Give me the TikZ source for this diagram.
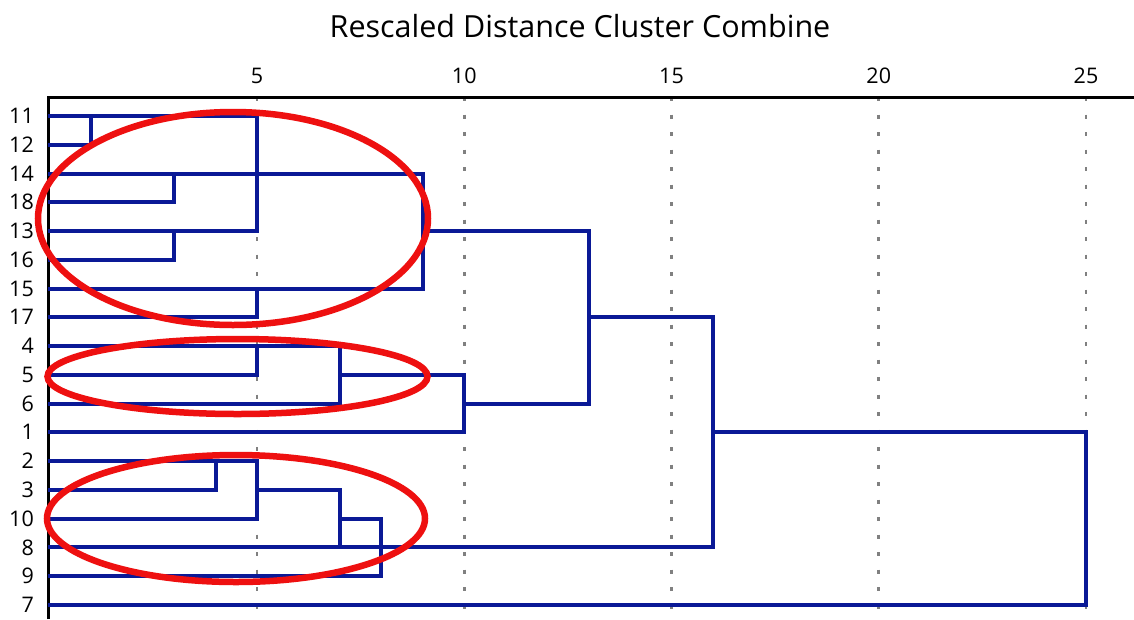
\documentclass[tikz,border=0pt]{standalone}
\usepackage{fontspec}
\setmainfont{Open Sans}
\definecolor{dendro}{RGB}{10,25,150}
\definecolor{ring}{RGB}{238,16,16}
\definecolor{gridgray}{RGB}{128,128,128}
\begin{document}
\begin{tikzpicture}[x=1pt,y=-1pt,
  tree/.style={draw=dendro, line width=4pt, line join=miter},
  axisline/.style={draw=black, line width=3pt},
  gridline/.style={draw=gridgray, line width=2.6pt, dash pattern=on 4pt off 13.5pt},
  ringline/.style={draw=ring, line width=6.5pt},
  rowlabel/.style={anchor=base east, inner sep=0pt, font=\fontsize{21.5}{24}\selectfont},
  ticklabel/.style={anchor=base, inner sep=0pt, font=\fontsize{21.5}{24}\selectfont},
  titlelabel/.style={anchor=base, inner sep=0pt, font=\fontsize{30.5}{36}\selectfont}]
\useasboundingbox (0,0) rectangle (1134,619);
\fill[white] (0,0) rectangle (1134,619);
% title
\node[titlelabel] (title) at (580,37) {Rescaled Distance Cluster Combine};
% grid lines and tick labels
\foreach \v in {5,10,15,20,25} {
  \draw[gridline] ({49.75+41.45*\v},97) -- ({49.75+41.45*\v},619);
  \node[ticklabel] (t\v) at ({49.75+41.45*\v},83) {\v};
}
% axes
\draw[axisline] (48,619) -- (48,97) -- (1134,97);
% row labels
\foreach \lab [count=\i from 0] in {11,12,14,18,13,16,15,17,4,5,6,1,2,3,10,8,9,7} {
  \node[rowlabel] (r\lab) at (34,{116+28.76*\i+7.6}) {\lab};
}
% dendrogram
\begin{scope}[shift={(49.75,116)}, x=41.45pt, y=-28.76pt]
  \draw[tree] (-0.04,1) -| (1,0);
  \draw[tree] (-0.04,0) -| (5,4) -- (-0.04,4);
  \draw[tree] (-0.04,3) -| (3,2);
  \draw[tree] (-0.04,5) -| (3,4);
  \draw[tree] (-0.04,2) -| (9,6) -- (-0.04,6);
  \draw[tree] (-0.04,7) -| (5,6);
  \draw[tree] (9,4) -| (13,10) -- (10,10);
  \draw[tree] (-0.04,9) -| (5,8);
  \draw[tree] (-0.04,8) -| (7,10) -- (-0.04,10);
  \draw[tree] (7,9) -| (10,11) -- (-0.04,11);
  \draw[tree] (13,7) -| (16,15) -- (-0.04,15);
  \draw[tree] (-0.04,13) -| (4,12);
  \draw[tree] (-0.04,12) -| (5,14) -- (-0.04,14);
  \draw[tree] (5,13) -| (7,15);
  \draw[tree] (7,14) -| (8,16) -- (-0.04,16);
  \draw[tree] (16,11) -| (25,17) -- (-0.04,17);
\end{scope}
% red ellipses
\draw[ringline] (233,218.5) ellipse [x radius=195pt, y radius=106.5pt];
\draw[ringline] (237.5,376.5) ellipse [x radius=190pt, y radius=37.5pt];
\draw[ringline] (236,518.5) ellipse [x radius=189pt, y radius=63.5pt];
\end{tikzpicture}
\end{document}
